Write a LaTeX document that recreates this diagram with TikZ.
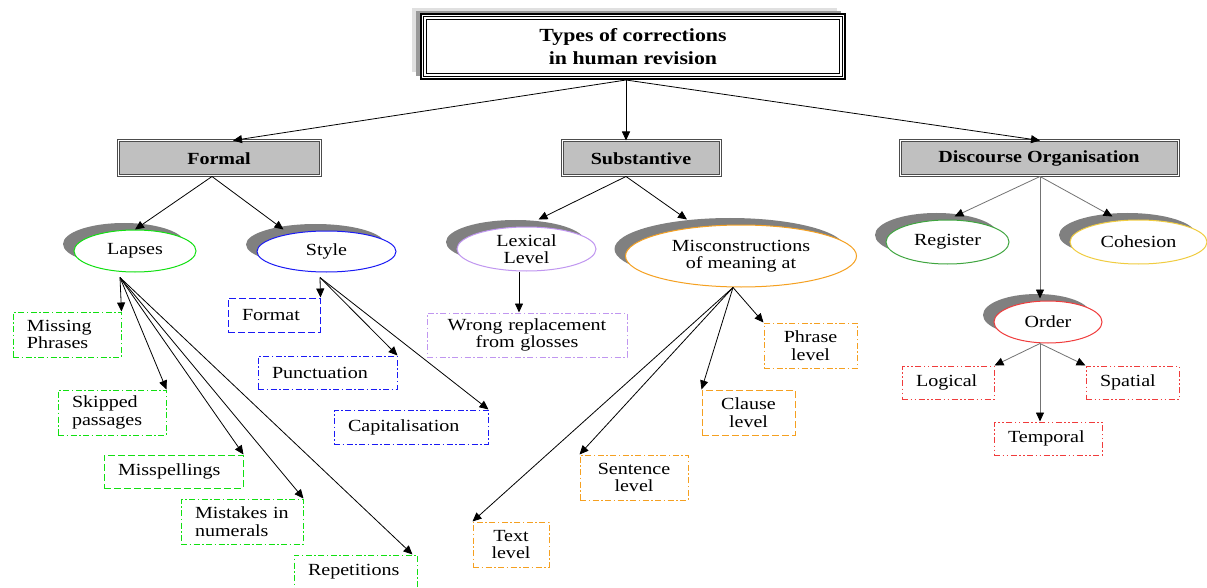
\documentclass[tikz,border=0pt]{standalone}
\usepackage{fontspec}
\setmainfont{Liberation Serif}[FakeStretch=1.18]
\usetikzlibrary{arrows.meta,shapes.geometric,shadows,calc}
\definecolor{cgreen}{HTML}{11E011}
\definecolor{cblue}{HTML}{1A1AF5}
\definecolor{cpurple}{HTML}{C096F0}
\definecolor{corange}{HTML}{F5A020}
\definecolor{cregister}{HTML}{3FA53F}
\definecolor{cyellow}{HTML}{F0CC40}
\definecolor{cred}{HTML}{F03C3C}
\definecolor{catfill}{HTML}{C0C0C0}
\begin{document}
\begin{tikzpicture}[x=1pt,y=-1pt,
  every node/.style={font=\fontsize{17}{17.5}\selectfont},
  arr/.style={-{Triangle[length=9pt,width=8pt]}, line width=0.8pt, draw=black},
  garr/.style={-{Triangle[length=9pt,width=8pt,color=black]}, line width=0.8pt, draw=black!55},
  catbox/.style={draw=black!70, line width=1pt, double=white, double distance=1pt,
    fill=catfill, font=\bfseries\fontsize{17}{17.5}\selectfont, minimum height=35pt, inner sep=0pt},
  ell/.style={ellipse, draw, fill=white, line width=1pt, inner sep=0pt, align=center,
    drop shadow={shadow xshift=-11pt, shadow yshift=7pt, fill=black!50, opacity=1}},
  dashdot/.style={dash pattern=on 6pt off 2.5pt on 1.5pt off 2.5pt},
  dashdotdot/.style={dash pattern=on 6pt off 2.5pt on 1.5pt off 2.5pt on 1.5pt off 2.5pt},
  longdash/.style={dash pattern=on 7pt off 3pt},
  lbox/.style={draw, line width=1pt, fill=white, inner xsep=14pt, inner ysep=0pt, align=left},
  cbox/.style={draw, line width=1pt, fill=white, inner xsep=4pt, inner ysep=0pt, align=center}
]
\fill[white] (0,0) rectangle (1207,588);
\useasboundingbox (0,0) rectangle (1207,588);
\clip (0,0) rectangle (1207,588);

% title
\fill[black!12] (412,8) rectangle (837,72);
\fill[black!40] (416,11) rectangle (841,76);
\node[draw, line width=2pt, fill=white, minimum width=424pt, minimum height=65pt, inner sep=0pt,
  align=center, font=\bfseries\fontsize{18.5}{22.5}\selectfont] (title) at (633,46.5)
  {Types of corrections\\in human revision};
\draw[line width=1pt] ($(title.north west)+(3.5,3.5)$) rectangle ($(title.south east)+(-3.5,-3.5)$);
\draw[line width=0.7pt] ($(title.north west)+(6.5,6.5)$) rectangle ($(title.south east)+(-6.5,-6.5)$);

% categories
\node[catbox, minimum width=202pt] (formal) at (219,158.5) {Formal};
\node[catbox, minimum width=158pt] (subst) at (641,158.5) {Substantive};
\node[catbox, minimum width=278pt] (disc) at (1039,158.5) {Discourse Organisation};

% ellipses
\node[ell, draw=cgreen, minimum width=122pt, minimum height=42pt] (lapses) at (135,251) {Lapses};
\node[ell, draw=cblue, minimum width=139pt, minimum height=41pt] (style) at (326.5,251.5) {Style};
\node[ell, draw=cpurple, minimum width=139pt, minimum height=44pt] (lexical) at (526.5,249) {Lexical\\Level};
\node[ell, draw=corange, minimum width=231pt, minimum height=62pt] (miscon) at (741,256) {Misconstructions\\of meaning at};
\node[ell, draw=cregister, minimum width=123pt, minimum height=44pt] (register) at (947.5,242) {Register};
\node[ell, draw=cyellow, minimum width=137pt, minimum height=44pt] (cohesion) at (1138.5,242) {Cohesion};
\node[ell, draw=cred, minimum width=108pt, minimum height=42pt] (order) at (1048,322) {Order};

% Lapses leaves
\node[lbox, draw=cgreen, dashdot, text width=80pt, minimum height=45pt] (missing) at (67,334.5) {Missing\\Phrases};
\node[lbox, draw=cgreen, dashdot, text width=80pt, minimum height=45pt] (skipped) at (112,412.5) {Skipped\\passages};
\node[lbox, draw=cgreen, longdash, text width=111pt, minimum height=33pt] (misspell) at (173.5,471.5) {Misspellings};
\node[lbox, draw=cgreen, dashdot, text width=94pt, minimum height=45pt] (mistakes) at (242,521.5) {Mistakes in\\numerals};
\node[lbox, draw=cgreen, dashdot, text width=95pt, minimum height=34pt] (repet) at (355.5,572) {Repetitions};

% Style leaves
\node[lbox, draw=cblue, longdash, text width=64pt, minimum height=34pt] (format) at (274,315) {Format};
\node[lbox, draw=cblue, dashdot, text width=111pt, minimum height=33pt] (punct) at (327.5,372.5) {Punctuation};
\node[lbox, draw=cblue, dashdot, text width=126pt, minimum height=34pt] (capit) at (411,427) {Capitalisation};

% Substantive leaves
\node[cbox, draw=cpurple, dashdot, text width=192pt, minimum height=44pt] (wrong) at (527,335) {Wrong replacement\\from glosses};
\node[cbox, draw=corange, dashdot, text width=85pt, minimum height=45pt] (phrase) at (810.5,345.5) {Phrase\\level};
\node[cbox, draw=corange, longdash, text width=85pt, minimum height=45pt] (clause) at (748.5,412.5) {Clause\\level};
\node[cbox, draw=corange, dashdot, text width=100pt, minimum height=45pt] (sentence) at (634,477.5) {Sentence\\level};
\node[cbox, draw=corange, dashdot, text width=68pt, minimum height=45pt] (textl) at (511,544.5) {Text\\level};

% Order leaves
\node[lbox, draw=cred, dashdotdot, text width=64pt, minimum height=33pt] (logical) at (948,382.5) {Logical};
\node[lbox, draw=cred, dashdotdot, text width=65pt, minimum height=33pt] (spatial) at (1132.5,382.5) {Spatial};
\node[lbox, draw=cred, dashdotdot, text width=80pt, minimum height=33pt] (temporal) at (1048,438.5) {Temporal};

% hubs
\coordinate (tout) at ([xshift=-7pt]title.south);
\coordinate (fout) at ([xshift=-7pt]formal.south);
\coordinate (sout) at ([xshift=-15pt]subst.south);
\coordinate (dout) at ([xshift=1pt]disc.south);
\coordinate (lout) at ([xshift=-15pt,yshift=-5pt]lapses.south);
\coordinate (stout) at ([xshift=-6.5pt,yshift=-5pt]style.south);
\coordinate (lexout) at ([xshift=-7.5pt]lexical.south);
\coordinate (mout) at ([xshift=-8pt]miscon.south);
\coordinate (oout) at ([xshift=-8pt]order.south);

% connectors
\draw[arr] (tout) -- ([xshift=14pt]formal.north);
\draw[arr] (tout) -- ([xshift=-15pt]subst.north);
\draw[arr] (tout) -- ([xshift=1pt]disc.north);

\draw[arr] (fout) -- (lapses.north);
\draw[arr] (fout) -- ([xshift=-43pt,yshift=1pt]style.north);

\draw[arr] (lout) -- (missing.north east);
\draw[arr] (lout) -- (skipped.north east);
\draw[arr] (lout) -- (misspell.north east);
\draw[arr] (lout) -- (mistakes.north east);
\draw[arr] (lout) -- ([xshift=-5pt]repet.north east);

\draw[arr] (stout) -- (format.north east);
\draw[arr] (stout) -- (punct.north east);
\draw[arr] (stout) -- (capit.north east);

\draw[arr] (sout) -- ([xshift=12pt,yshift=7pt]lexical.north);
\draw[arr] (sout) -- ([xshift=-54pt,yshift=5pt]miscon.north);
\draw[arr] (lexout) -- ([xshift=-8pt]wrong.north);

\draw[arr] (mout) -- (phrase.north west);
\draw[arr] (mout) -- (clause.north west);
\draw[arr] (mout) -- (sentence.north west);
\draw[arr] (mout) -- (textl.north west);

\draw[garr] (dout) -- ([xshift=7pt,yshift=3pt]register.north);
\draw[garr] (dout) -- ([xshift=-8pt,yshift=2pt]order.north);
\draw[garr] (dout) -- ([xshift=-26pt,yshift=3pt]cohesion.north);

\draw[garr] (oout) -- (logical.north east);
\draw[garr] (oout) -- ([xshift=-8pt]temporal.north);
\draw[garr] (oout) -- (spatial.north west);
\end{tikzpicture}
\end{document}
